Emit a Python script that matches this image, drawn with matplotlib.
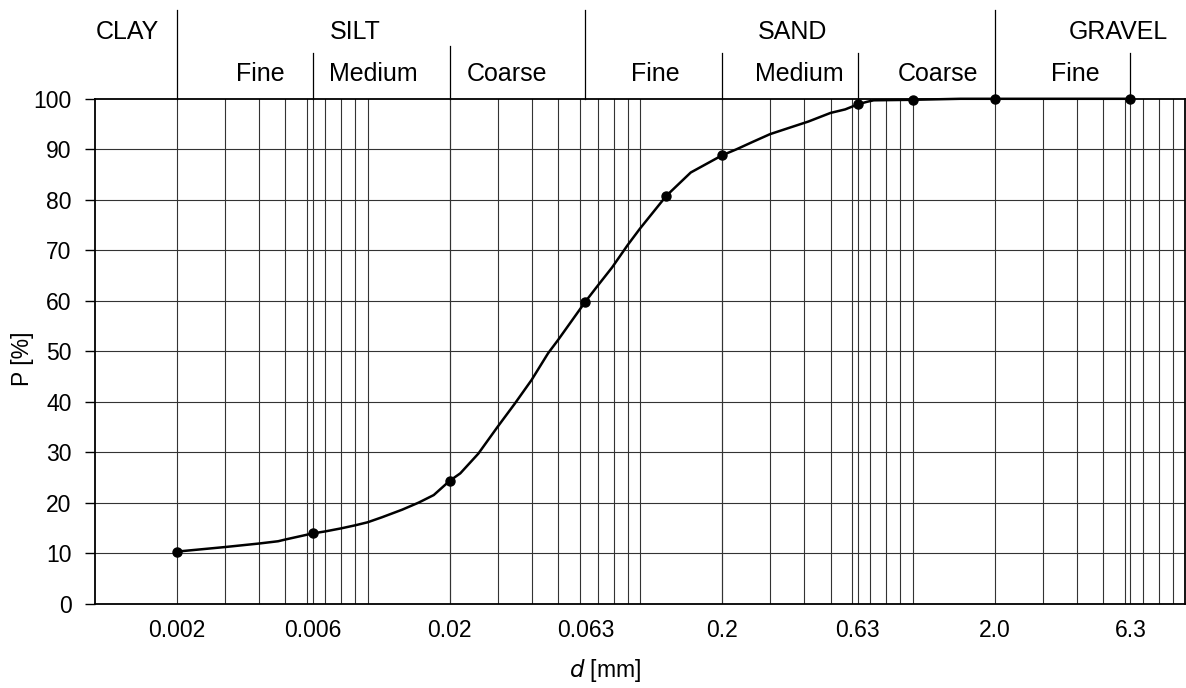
import matplotlib
matplotlib.use("Agg")
import matplotlib.pyplot as plt
from matplotlib.ticker import NullLocator
import numpy as np

plt.rcParams['font.family'] = ['Liberation Sans', 'DejaVu Sans']

# grain size curve (d in mm, P in %)
curve_d = [0.002, 0.003, 0.004, 0.0047, 0.005, 0.0063, 0.007, 0.008, 0.009, 0.010,
           0.0113, 0.0134, 0.0154, 0.0175, 0.020, 0.0219, 0.0255, 0.030, 0.0347,
           0.040, 0.046, 0.050, 0.063, 0.070, 0.079, 0.090, 0.100, 0.125, 0.1535,
           0.200, 0.226, 0.26, 0.30, 0.355, 0.415, 0.458, 0.50, 0.566, 0.63,
           0.68, 0.72, 1.0, 1.5, 2.0, 6.3]
curve_p = [10.3, 11.2, 11.9, 12.35, 12.7, 13.9, 14.3, 14.9, 15.5, 16.1,
           17.1, 18.6, 20.0, 21.5, 24.3, 25.8, 29.7, 35.0, 39.6,
           44.3, 49.6, 52.2, 59.8, 63.0, 66.6, 71.0, 74.3, 80.8, 85.4,
           88.8, 90.0, 91.5, 93.0, 94.3, 95.5, 96.4, 97.2, 97.9, 98.9,
           99.4, 99.7, 99.8, 100.0, 100.0, 100.0]

# measured points (dots)
sieve_d = [0.002, 0.0063, 0.02, 0.063, 0.125, 0.2, 0.63, 1.0, 2.0, 6.3]
sieve_p = [10.3, 13.9, 24.3, 59.8, 80.8, 88.8, 98.9, 99.8, 100.0, 100.0]

# axis labels
xtick_vals = [0.002, 0.0063, 0.02, 0.063, 0.2, 0.63, 2.0, 6.3]
xtick_labels = ["0.002", "0.006", "0.02", "0.063", "0.2", "0.63", "2.0", "6.3"]
yticks = list(range(0, 101, 10))

# soil class header
main_bounds = [0.002, 0.063, 2.0]
sub_bounds = [0.0063, 0.02, 0.2, 0.63, 6.3]
main_names = ["CLAY", "SILT", "SAND", "GRAVEL"]
main_xpos = [0.00132, 0.0090, 0.363, 5.68]
sub_names = ["Fine", "Medium", "Coarse", "Fine", "Medium", "Coarse", "Fine"]
sub_xpos = [0.00403, 0.01048, 0.0324, 0.1134, 0.385, 1.236, 3.94]

fig = plt.figure(figsize=(11.86, 6.88), dpi=100)
ax = fig.add_axes([0.0801, 0.1227, 0.9191, 0.7337])
ax.set_xscale('log')
ax.set_xlim(0.001, 10)
ax.set_ylim(0, 100)

# log grid: 1..9 in each decade, plus the class boundaries
grid_x = []
for e in range(-3, 1):
    for m in range(1, 10):
        grid_x.append(m * 10.0 ** e)
for gx in grid_x + sub_bounds:
    if 0.001 < gx < 10:
        ax.axvline(gx, color='0.2', lw=0.8, zorder=1)
for gy in yticks[1:-1]:
    ax.axhline(gy, color='0.2', lw=0.8, zorder=1)

ax.plot(curve_d, curve_p, color='black', lw=1.8, zorder=3, clip_on=False)
ax.plot(sieve_d, sieve_p, 'o', color='black', ms=6.5, zorder=4, clip_on=False)

ax.set_xticks(xtick_vals)
ax.set_xticklabels(xtick_labels)
ax.xaxis.set_minor_locator(NullLocator())
ax.tick_params(axis='x', length=0, pad=11, labelsize=16.5)
ax.set_yticks(yticks)
ax.tick_params(axis='y', length=7, width=1, pad=10, labelsize=16.5)

for s in ax.spines.values():
    s.set_linewidth(1.3)

ax.set_ylabel("P [%]", fontsize=16.5)
ax.yaxis.set_label_coords(-0.056, 0.485)
ax.set_xlabel("$d$ [mm]", fontsize=16.5)
ax.xaxis.set_label_coords(0.468, -0.105)

# header above the plot
tr = ax.get_xaxis_transform()
for b in main_bounds:
    ax.plot([b, b], [1.0, 1.176], transform=tr, color='black', lw=0.9, clip_on=False)
for b in sub_bounds:
    top = 1.105 if b == 0.02 else 1.091
    ax.plot([b, b], [1.0, top], transform=tr, color='black', lw=0.9, clip_on=False)
for name, xp in zip(main_names, main_xpos):
    ax.text(xp, 1.133, name, transform=tr, ha='center', va='center', fontsize=18)
for name, xp in zip(sub_names, sub_xpos):
    ax.text(xp, 1.049, name, transform=tr, ha='center', va='center', fontsize=18)

fig.savefig("out.png", dpi=100)
